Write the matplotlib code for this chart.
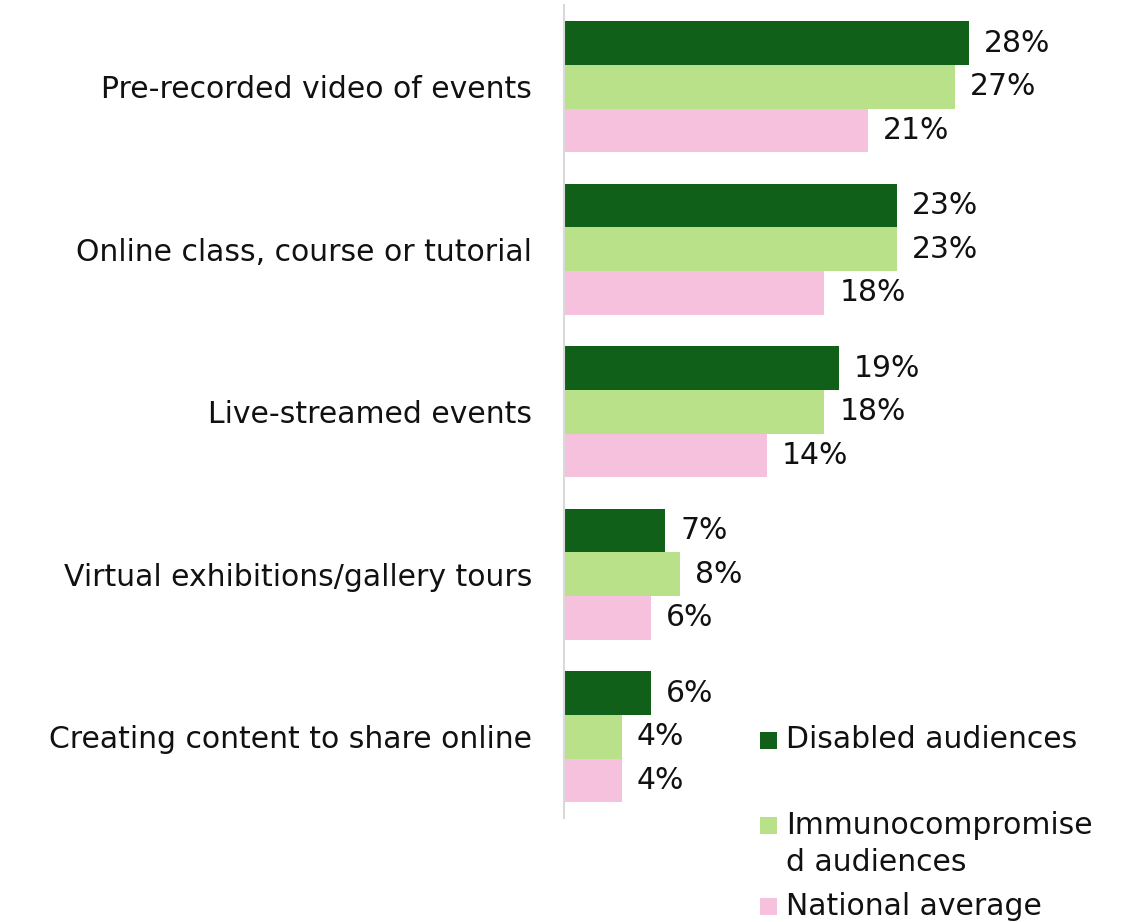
import matplotlib
matplotlib.use("Agg")
import matplotlib.pyplot as plt
from matplotlib.patches import Rectangle
import numpy as np

categories = ["Pre-recorded video of events", "Online class, course or tutorial",
              "Live-streamed events", "Virtual exhibitions/gallery tours",
              "Creating content to share online"]
series_names = ["Disabled audiences", "Immunocompromise\nd audiences", "National average"]
disabled = [28, 23, 19, 7, 6]
immuno = [27, 23, 18, 8, 4]
national = [21, 18, 14, 6, 4]
colors = ["#116019", "#B9E18A", "#F6C1DC"]

plt.rcParams['font.family'] = ['DejaVu Sans']
FS = 21.5
TC = '#111111'

W, H = 1141, 922
fig = plt.figure(figsize=(W/100, H/100), dpi=100)
x0 = 564
ppu = 14.47
xmax = 30
top_px, bot_px = 5.5, 818
ax = fig.add_axes([x0/W, 1 - bot_px/H, xmax*ppu/W, (bot_px-top_px)/H])

n = len(categories)
y = np.arange(n)
bh = 0.268
for i, (vals, c) in enumerate(zip([disabled, immuno, national], colors)):
    ys = y + (i - 1) * bh
    ax.barh(ys, vals, height=bh, color=c, edgecolor='none')
    for yy, v in zip(ys, vals):
        ax.text(v + 15/ppu, yy, f"{v}%", va='center', ha='left', fontsize=FS, color=TC)

ax.set_ylim(n - 0.5, -0.5)
ax.set_xlim(0, xmax)
ax.set_yticks(y)
ax.set_yticklabels(categories, fontsize=FS, color=TC)
ax.tick_params(axis='y', length=0, pad=23)
ax.set_xticks([])
for s in ['top', 'right', 'bottom']:
    ax.spines[s].set_visible(False)
ax.spines['left'].set_color('#d9d9d9')
ax.spines['left'].set_linewidth(1.5)

# legend
leg_y = [740, 825, 906]
for name, c, yy in zip(series_names, colors, leg_y):
    fig.patches.append(Rectangle((760/W, 1 - (yy+9)/H), 17/W, 17/H, transform=fig.transFigure,
                                 facecolor=c, edgecolor='none'))
    for k, line in enumerate(name.split('\n')):
        fig.text(786/W, 1 - (yy + 37*k)/H, line, va='center', ha='left', fontsize=FS, color=TC)

fig.savefig("out.png", dpi=100)
